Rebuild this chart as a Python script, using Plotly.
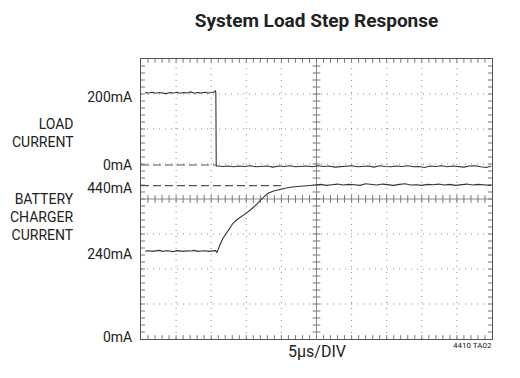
import plotly.graph_objects as go

# ---------------- data ----------------
# Load current (mA) vs time (us), 5 us/div
LOAD_T_HIGH = [0.6, 1.1, 1.6, 2.1, 2.6, 3.1, 3.6, 4.1, 4.6, 5.1, 5.6, 6.1, 6.6, 7.1, 7.6, 8.1, 8.6, 9.1, 9.6, 10.1, 10.5]
LOAD_MA_HIGH = [204, 203, 205, 202, 204, 203, 201, 204, 203, 205, 202, 204, 203, 206, 202, 204, 203, 205, 203, 204, 206]
LOAD_T_STEP = [10.6, 10.66, 10.72, 10.8]
LOAD_MA_STEP = [210, 204, -4, -2]
LOAD_T_LOW = [11.6, 12.4, 13.2, 14.0, 14.8, 15.6, 16.4, 17.2, 18.0, 18.8,
              19.6, 20.4, 21.2, 22.0, 22.8, 23.6, 24.4, 25.2, 26.0, 26.8,
              27.6, 28.4, 29.2, 30.0, 30.8, 31.6, 32.4, 33.2, 34.0, 34.8,
              35.6, 36.4, 37.2, 38.0, 38.8, 39.6, 40.4, 41.2, 42.0, 42.8,
              43.6, 44.4, 45.2, 46.0, 46.8, 47.6, 48.4, 49.2, 49.9]
LOAD_MA_LOW = [-4, -3, -5, -3, -4, -2, -5, -4, -3, -6,
               -3, -4, -2, -5, -4, -3, -5, -2, -4, -3,
               -6, -4, -3, -2, -5, -4, -3, -6, -2, -4,
               -5, -3, -4, -2, -5, -4, -7, -3, -4, -2,
               -5, -3, -4, -6, -3, -2, -5, -7, -3]

# Battery charger current (mA)
BATT_T_LOW = [0.6, 1.1, 1.6, 2.1, 2.6, 3.1, 3.6, 4.1, 4.6, 5.1, 5.6, 6.1, 6.6, 7.1, 7.6, 8.1, 8.6, 9.1, 9.6, 10.1, 10.6]
BATT_MA_LOW = [240, 241, 239, 240, 242, 239, 241, 240, 238, 241, 240, 239, 241, 240, 242, 239, 240, 241, 239, 240, 241]
BATT_T_RISE = [10.75, 10.82, 11.3, 11.7, 12.15, 12.6, 13.1, 13.6, 14.3, 15.0, 15.7, 16.4,
               17.2, 18.1, 18.9, 19.8, 20.7, 21.5, 22.3, 23.1, 24.0]
BATT_MA_RISE = [238, 235, 262, 280, 294, 310, 325, 335, 345, 356, 368, 381,
                400, 417, 424, 429, 433, 436, 437, 440, 440]
BATT_T_HIGH = [24.8, 25.6, 26.4, 27.2, 28.0, 28.8, 29.6, 30.4, 31.2, 32.0,
               32.8, 33.6, 34.4, 35.2, 36.0, 36.8, 37.6, 38.4, 39.2, 40.0,
               40.8, 41.6, 42.4, 43.2, 44.0, 44.8, 45.6, 46.4, 47.2, 48.0,
               48.8, 49.6, 49.9]
BATT_MA_HIGH = [442, 444, 441, 443, 445, 442, 444, 443, 441, 446,
                443, 442, 445, 443, 441, 444, 446, 442, 443, 441,
                444, 443, 445, 442, 444, 441, 443, 445, 442, 444,
                443, 441, 443]

# reference (dashed) levels
LOAD_REF_T = [0, 10.65]
LOAD_REF_MA = [0, 0]
BATT_REF_T = [0, 20.0]
BATT_REF_MA = [440, 440]

# left-side level labels (text, and vertical position in screen divisions)
Y_TICK_TEXT = ["200mA", "0mA", "440mA", "240mA", "0mA"]
Y_TICK_DIV = [6.92, 4.97, 4.32, 2.43, 0.05]

TITLE = "System Load Step Response"
X_LABEL = "5\u03bcs/DIV"
NOTE = "4410 TA02"

# ---------------- figure ----------------
FONT = "Roboto, Liberation Sans, sans-serif"
TRACE_COLOR = "#333333"
GRID_COLOR = "#8a8a8a"
TICK_COLOR = "#777777"

fig = go.Figure()

load_t = LOAD_T_HIGH + LOAD_T_STEP + LOAD_T_LOW
load_ma = LOAD_MA_HIGH + LOAD_MA_STEP + LOAD_MA_LOW
batt_t = BATT_T_LOW + BATT_T_RISE + BATT_T_HIGH
batt_ma = BATT_MA_LOW + BATT_MA_RISE + BATT_MA_HIGH

fig.add_trace(go.Scatter(x=LOAD_REF_T, y=LOAD_REF_MA, yaxis="y2", mode="lines",
                         line=dict(color="#555", width=1.2, dash="8px,4px"),
                         hoverinfo="skip", showlegend=False))
fig.add_trace(go.Scatter(x=BATT_REF_T, y=BATT_REF_MA, yaxis="y3", mode="lines",
                         line=dict(color="#555", width=1.2, dash="8px,4px"),
                         hoverinfo="skip", showlegend=False))
fig.add_trace(go.Scatter(x=load_t, y=load_ma, yaxis="y2", mode="lines",
                         line=dict(color=TRACE_COLOR, width=1.1), showlegend=False))
fig.add_trace(go.Scatter(x=batt_t, y=batt_ma, yaxis="y3", mode="lines",
                         line=dict(color=TRACE_COLOR, width=1.1), showlegend=False))

# graticule
shapes = []
def seg(x0, x1, y0, y1, color=GRID_COLOR, dash="solid"):
    shapes.append(dict(type="line", xref="x", yref="y", x0=x0, x1=x1, y0=y0, y1=y1,
                       line=dict(color=color, width=1, dash=dash), layer="below"))

for k in range(1, 10):
    seg(5 * k, 5 * k, 0, 8, dash="solid" if k == 5 else "1px,5px")
for j in range(1, 8):
    seg(0, 50, j, j, dash="solid" if j == 4 else "1px,5px")
# small ticks on the centre cross
for i in range(1, 50):
    seg(i, i, 3.89, 4.11, color=TICK_COLOR)
for i in range(1, 40):
    seg(24.45, 25.55, i / 5, i / 5, color=TICK_COLOR)
# small ticks on the frame
for i in range(1, 50):
    seg(i, i, 0, 0.11, color=TICK_COLOR)
    seg(i, i, 8 - 0.11, 8, color=TICK_COLOR)
for i in range(1, 40):
    seg(0, 0.57, i / 5, i / 5, color=TICK_COLOR)
    seg(50 - 0.57, 50, i / 5, i / 5, color=TICK_COLOR)

fig.update_layout(
    width=520, height=378,
    margin=dict(l=141, r=28, t=59, b=39),
    paper_bgcolor="white", plot_bgcolor="white",
    font=dict(family=FONT, size=14, color="#222"),
    title=dict(text=TITLE, x=0.5, xref="paper", xanchor="center",
               y=1 - 20 / 378, yanchor="middle",
               font=dict(family=FONT, size=19, color="#222", weight="bold")),
    xaxis=dict(range=[0, 50], showgrid=False, zeroline=False, showticklabels=False,
               showline=True, linecolor="#555", linewidth=1, mirror=True, ticks=""),
    yaxis=dict(range=[0, 8], showgrid=False, zeroline=False,
               tickmode="array", tickvals=Y_TICK_DIV, ticktext=Y_TICK_TEXT,
               ticks="", ticklabelstandoff=5,
               showline=True, linecolor="#555", linewidth=1, mirror=True),
    yaxis2=dict(range=[-490.1, 298.6], overlaying="y", visible=False),
    yaxis3=dict(range=[-29.5, 828.1], overlaying="y", visible=False),
    shapes=shapes,
    annotations=[
        dict(text="LOAD<br>CURRENT", xref="paper", x=0, xanchor="right", xshift=-65,
             yref="y", y=5.9, yanchor="middle", align="right", showarrow=False,
             font=dict(size=14)),
        dict(text="BATTERY<br>CHARGER<br>CURRENT", xref="paper", x=0, xanchor="right",
             xshift=-65, yref="y", y=3.49, yanchor="middle", align="right",
             showarrow=False, font=dict(size=14)),
        dict(text=X_LABEL, xref="paper", x=0.5, xanchor="center", yref="paper", y=0,
             yanchor="top", yshift=-1, showarrow=False, font=dict(size=16)),
        dict(text=NOTE, xref="paper", x=1, xanchor="right", xshift=2, yref="paper", y=0,
             yanchor="top", yshift=0, showarrow=False, font=dict(size=8)),
    ],
)

fig.write_html("out.html", config={"displayModeBar": False},
               post_script="document.body.style.margin='0';")
